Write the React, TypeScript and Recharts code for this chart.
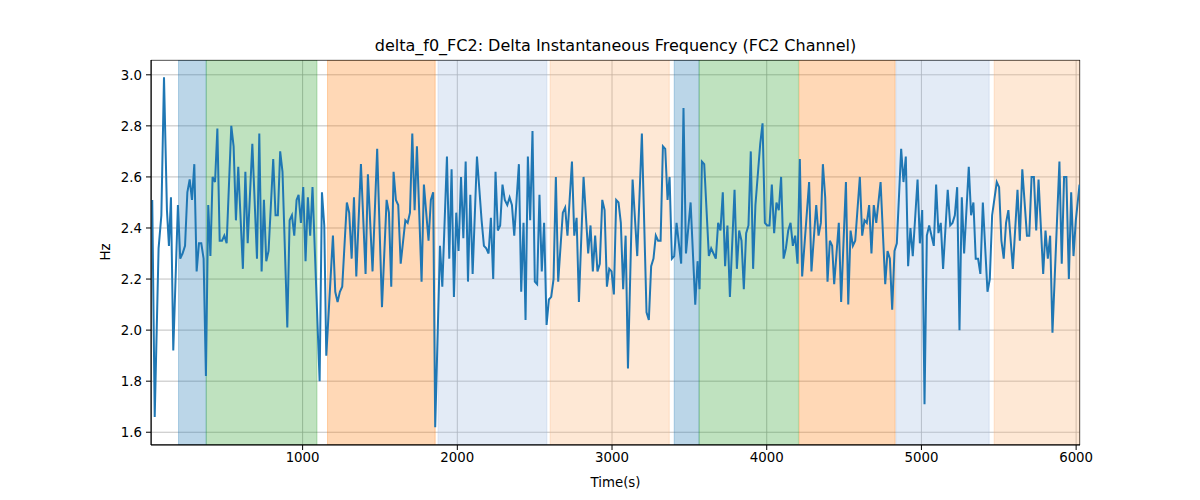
import { LineChart, Line, XAxis, YAxis, CartesianGrid, ReferenceArea } from "recharts";

// time stamps (s) and delta f0 values (Hz)
const times = [
  28, 44, 69, 87, 104, 123, 136, 149, 164, 194, 209, 224, 240, 255, 270, 285, 300, 315, 330, 345,
  360, 375, 390, 404, 418, 434, 449, 464, 479, 494, 509, 539, 554, 569, 584, 614, 630, 645, 675, 705,
  720, 735, 750, 765, 780, 810, 825, 840, 855, 870, 901, 916, 931, 946, 961, 974, 989, 1004, 1019, 1034,
  1049, 1064, 1110, 1125, 1140, 1153, 1196, 1211, 1226, 1241, 1256, 1286, 1301, 1317, 1332, 1347, 1377, 1407, 1422, 1452,
  1482, 1513, 1543, 1558, 1573, 1588, 1603, 1618, 1634, 1664, 1679, 1694, 1709, 1724, 1739, 1769, 1784, 1814, 1829, 1844,
  1857, 1888, 1903, 1933, 1948, 1963, 1978, 1993, 2008, 2024, 2039, 2054, 2069, 2084, 2099, 2127, 2157, 2172, 2187, 2202,
  2217, 2232, 2247, 2262, 2277, 2292, 2307, 2323, 2338, 2353, 2368, 2398, 2413, 2428, 2441, 2456, 2471, 2486, 2501, 2516,
  2531, 2546, 2561, 2577, 2592, 2607, 2622, 2637, 2652, 2682, 2697, 2712, 2741, 2756, 2771, 2786, 2816, 2846, 2861, 2876,
  2891, 2906, 2921, 2937, 2952, 2967, 2982, 2997, 3012, 3027, 3042, 3057, 3072, 3088, 3103, 3133, 3163, 3193, 3223, 3238,
  3253, 3268, 3283, 3298, 3314, 3329, 3344, 3359, 3372, 3387, 3402, 3417, 3447, 3462, 3478, 3508, 3538, 3553, 3566, 3581,
  3596, 3626, 3641, 3656, 3671, 3686, 3701, 3716, 3731, 3746, 3762, 3792, 3807, 3822, 3837, 3852, 3867, 3882, 3897, 3912,
  3927, 3958, 3973, 3988, 4003, 4018, 4033, 4048, 4063, 4078, 4093, 4109, 4124, 4139, 4154, 4169, 4184, 4199, 4214, 4229,
  4274, 4289, 4320, 4335, 4350, 4363, 4378, 4393, 4408, 4423, 4436, 4466, 4481, 4512, 4527, 4542, 4557, 4572, 4602, 4617,
  4632, 4647, 4662, 4677, 4692, 4708, 4736, 4766, 4781, 4796, 4811, 4826, 4841, 4869, 4884, 4899, 4914, 4929, 4944, 4975,
  4990, 5005, 5020, 5035, 5050, 5080, 5095, 5110, 5125, 5140, 5170, 5186, 5201, 5216, 5231, 5246, 5261, 5276, 5306, 5321,
  5336, 5351, 5366, 5381, 5397, 5427, 5442, 5457, 5487, 5502, 5517, 5532, 5547, 5562, 5591, 5621, 5636, 5652, 5682, 5697,
  5712, 5727, 5742, 5757, 5787, 5802, 5817, 5832, 5847, 5892, 5907, 5922, 5937, 5953, 5968, 5983, 5998, 6022,
];

const deltaF0 = [
  2.51, 1.66, 2.32, 2.45, 2.99, 2.47, 2.33, 2.52, 1.92, 2.49, 2.28, 2.30, 2.33, 2.54, 2.59, 2.51, 2.65, 2.23, 2.34, 2.34,
  2.28, 1.82, 2.49, 2.29, 2.60, 2.58, 2.79, 2.35, 2.35, 2.37, 2.34, 2.80, 2.72, 2.43, 2.64, 2.24, 2.62, 2.34, 2.73, 2.28,
  2.77, 2.23, 2.51, 2.27, 2.31, 2.67, 2.45, 2.45, 2.70, 2.62, 2.01, 2.43, 2.45, 2.37, 2.51, 2.53, 2.42, 2.56, 2.27, 2.52,
  2.37, 2.56, 1.80, 2.54, 2.41, 1.90, 2.37, 2.15, 2.11, 2.15, 2.17, 2.50, 2.46, 2.28, 2.52, 2.21, 2.65, 2.22, 2.61, 2.23,
  2.71, 2.09, 2.51, 2.46, 2.17, 2.62, 2.51, 2.49, 2.26, 2.43, 2.42, 2.46, 2.77, 2.47, 2.72, 2.19, 2.57, 2.35, 2.51, 2.54,
  1.62, 2.33, 2.17, 2.68, 2.28, 2.63, 2.13, 2.46, 2.31, 2.60, 2.36, 2.66, 2.19, 2.53, 2.22, 2.68, 2.43, 2.33, 2.32, 2.30,
  2.44, 2.20, 2.62, 2.39, 2.41, 2.57, 2.51, 2.49, 2.52, 2.49, 2.37, 2.65, 2.15, 2.42, 2.04, 2.68, 2.43, 2.78, 2.19, 2.18,
  2.53, 2.23, 2.42, 2.02, 2.12, 2.13, 2.20, 2.60, 2.19, 2.46, 2.48, 2.37, 2.66, 2.37, 2.44, 2.11, 2.60, 2.30, 2.41, 2.23,
  2.37, 2.23, 2.26, 2.51, 2.47, 2.17, 2.24, 2.23, 2.14, 2.51, 2.50, 2.42, 2.16, 2.37, 1.85, 2.59, 2.29, 2.77, 2.07, 2.04,
  2.25, 2.28, 2.37, 2.35, 2.35, 2.72, 2.71, 2.51, 2.60, 2.28, 2.29, 2.42, 2.26, 2.87, 2.30, 2.50, 2.10, 2.27, 2.16, 2.66,
  2.65, 2.29, 2.32, 2.30, 2.28, 2.42, 2.39, 2.54, 2.25, 2.41, 2.13, 2.55, 2.24, 2.39, 2.35, 2.16, 2.38, 2.41, 2.70, 2.24,
  2.49, 2.73, 2.81, 2.42, 2.41, 2.41, 2.57, 2.38, 2.50, 2.47, 2.60, 2.28, 2.32, 2.39, 2.42, 2.33, 2.37, 2.26, 2.67, 2.21,
  2.58, 2.23, 2.49, 2.37, 2.42, 2.65, 2.52, 2.19, 2.35, 2.33, 2.18, 2.42, 2.11, 2.58, 2.10, 2.39, 2.33, 2.35, 2.60, 2.37,
  2.43, 2.42, 2.49, 2.30, 2.49, 2.42, 2.58, 2.18, 2.31, 2.28, 2.08, 2.31, 2.34, 2.71, 2.58, 2.68, 2.25, 2.40, 2.29, 2.59,
  2.34, 2.47, 1.71, 2.37, 2.41, 2.33, 2.57, 2.38, 2.42, 2.24, 2.55, 2.41, 2.42, 2.45, 2.56, 2.00, 2.52, 2.30, 2.64, 2.45,
  2.50, 2.28, 2.28, 2.22, 2.50, 2.15, 2.20, 2.45, 2.58, 2.56, 2.35, 2.28, 2.42, 2.47, 2.24, 2.55, 2.35, 2.63, 2.37, 2.37,
  2.60, 2.60, 2.39, 2.59, 2.22, 2.39, 2.28, 2.37, 1.99, 2.66, 2.26, 2.60, 2.60, 2.20, 2.54, 2.29, 2.43, 2.57,
];

// shaded segments: [start, end, colour, opacity]
const segStart = [198, 377, 1161, 1875, 2600, 3402, 3563, 4210, 4835, 5470];
const segEnd = [377, 1093, 1857, 2579, 3370, 3563, 4205, 4830, 5438, 6025];
const segColor = ["#1f77b4", "#2ca02c", "#ff7f0e", "#a2bce1", "#fcb273", "#1f77b4", "#2ca02c", "#ff7f0e", "#a2bce1", "#fcb273"];

const xTicks = [1000, 2000, 3000, 4000, 5000, 6000];
const yTicks = [1.6, 1.8, 2.0, 2.2, 2.4, 2.6, 2.8, 3.0];

const data = times.map((t, i) => ({ t, v: deltaF0[i] }));

const font = "'DejaVu Sans', sans-serif";

const App = () => {
  return (
    <div style={{ position: "absolute", left: 0, top: 0, width: 1200, height: 500, background: "#fff" }}>
      <div
        style={{
          position: "absolute",
          left: 151,
          width: 929,
          top: 36,
          textAlign: "center",
          fontFamily: font,
          fontSize: 16,
          lineHeight: "20px",
          color: "#000",
        }}
      >
        delta_f0_FC2: Delta Instantaneous Frequency (FC2 Channel)
      </div>
      <div style={{ position: "absolute", left: 0, top: 0 }}>
        <LineChart width={1200} height={500} data={data} margin={{ top: 60, right: 120, bottom: 0, left: 0 }}>
          {/* shaded bands first so grid and line sit on top */}
          {segStart.map((s, i) => (
            <ReferenceArea
              key={i}
              x1={s}
              x2={segEnd[i]}
              y1={1.55}
              y2={3.058}
              fill={segColor[i]}
              fillOpacity={0.3}
              stroke={segColor[i]}
              strokeOpacity={0.3}
              strokeWidth={1}
              ifOverflow="hidden"
            />
          ))}
          <CartesianGrid stroke="#b0b0b0" strokeWidth={0.8} />
          <XAxis
            dataKey="t"
            type="number"
            domain={[20, 6025]}
            allowDataOverflow
            ticks={xTicks}
            height={55}
            tickSize={5}
            tickMargin={3}
            stroke="#000"
            tick={{ fill: "#000", fontSize: 13.33, fontFamily: font }}
            label={{ value: "Time(s)", position: "insideBottom", offset: 13, fill: "#000", fontSize: 13.33, fontFamily: font }}
          />
          <YAxis
            type="number"
            domain={[1.55, 3.058]}
            allowDataOverflow
            ticks={yTicks}
            width={151}
            tickSize={5}
            tickMargin={4}
            stroke="#000"
            tickFormatter={(v: number) => v.toFixed(1)}
            tick={{ fill: "#000", fontSize: 13.33, fontFamily: font }}
            label={{
              content: () => (
                <text x={110} y={252} transform="rotate(-90 110 252)" textAnchor="middle" fill="#000" fontSize={13.33} fontFamily={font}>
                  Hz
                </text>
              ),
            }}
          />
          <Line type="linear" dataKey="v" stroke="#1f77b4" strokeWidth={2} dot={false} isAnimationActive={false} />
          {/* plot frame */}
          <ReferenceArea x1={20} x2={6025} y1={1.55} y2={3.058} fill="none" stroke="#000" strokeWidth={1} ifOverflow="hidden" />
        </LineChart>
      </div>
    </div>
  );
};

export default App;
